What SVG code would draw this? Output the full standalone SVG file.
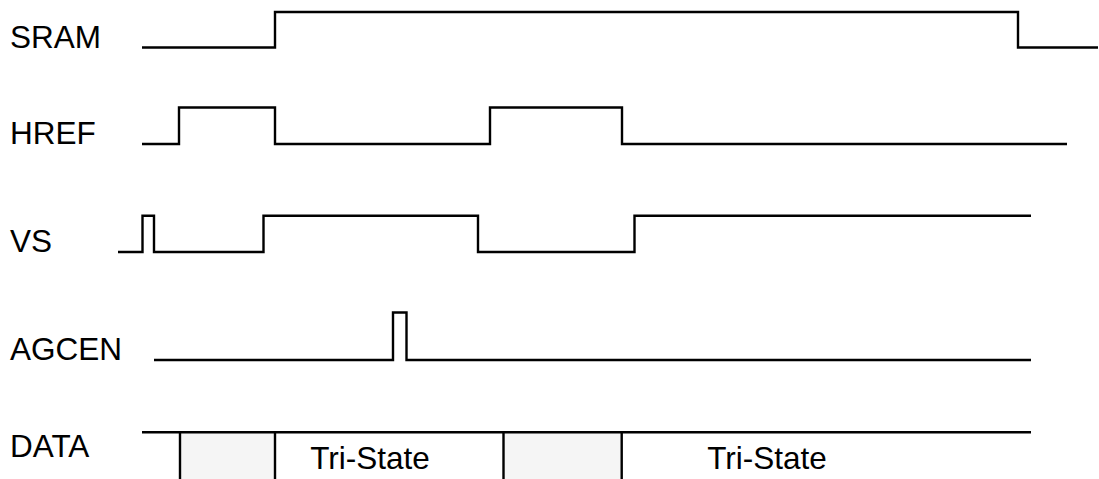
<svg xmlns="http://www.w3.org/2000/svg" width="1099" height="479" viewBox="0 0 1099 479">
<style>
.lbl{font-family:"Liberation Sans",Arial,sans-serif;font-size:31.5px;fill:#000}
.ts{font-family:"Liberation Sans",Arial,sans-serif;font-size:31.5px;fill:#000;text-anchor:middle}
.w{fill:none;stroke:#000;stroke-width:2.4;stroke-linejoin:miter}
.bus{fill:#f5f5f5;stroke:none}
</style>
<rect width="1099" height="479" fill="#fff"/>
<g id="SRAM">
<text class="lbl" x="10" y="48">SRAM</text>
<path class="w" d="M142,47.5 H275 V12 H1018 V47.5 H1098"/>
</g>
<g id="HREF">
<text class="lbl" x="10" y="144">HREF</text>
<path class="w" d="M142,144 H179 V107.5 H275 V144 H490 V107.5 H622 V144 H1067"/>
</g>
<g id="VS">
<text class="lbl" x="10" y="252">VS</text>
<path class="w" d="M118,252 H142.5 V215.7 H154 V252 H263.5 V215.7 H478 V252 H634.5 V215.7 H1031"/>
</g>
<g id="AGCEN">
<text class="lbl" x="10" y="360">AGCEN</text>
<path class="w" d="M154,360 H393 V312.5 H406.5 V360 H1031"/>
</g>
<g id="DATA">
<text class="lbl" x="10" y="457">DATA</text>
<rect class="bus" x="180" y="432" width="95" height="47"/>
<rect class="bus" x="503.5" y="432" width="118" height="47"/>
<path class="w" d="M142,432.3 H1031 M180,432.3 V479 M275,432.3 V479 M503.5,432.3 V479 M621.7,432.3 V479"/>
<text class="ts" x="370" y="469">Tri-State</text>
<text class="ts" x="767" y="469">Tri-State</text>
</g>
<g id="connectors"/>
</svg>
